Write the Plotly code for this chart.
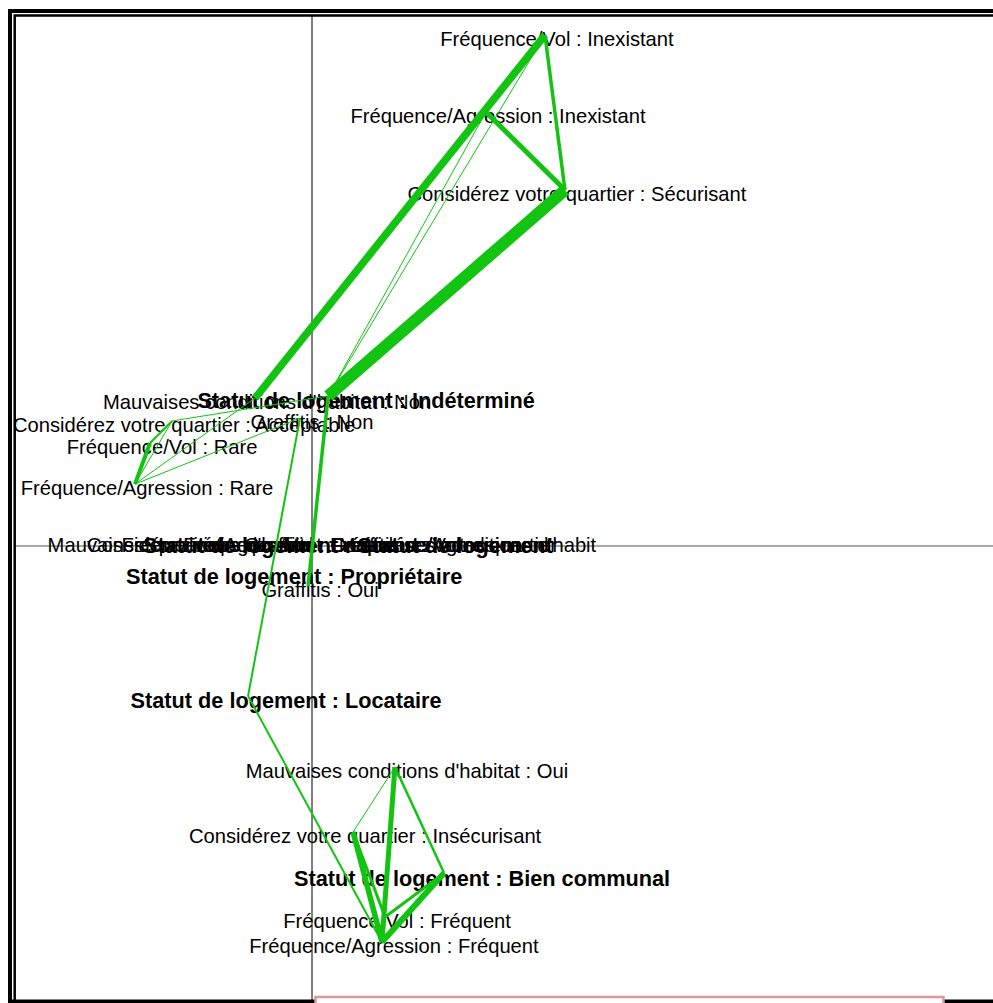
import plotly.graph_objects as go

# ---------------- data ----------------
categories = [
    "Fréquence/Vol : Inexistant",                      # 0
    "Fréquence/Agression : Inexistant",                # 1
    "Considérez votre quartier : Sécurisant",          # 2
    "Statut de logement : Indéterminé",                # 3
    "Mauvaises conditions d'habitat : Non",            # 4
    "Graffitis : Non",                                 # 5
    "Considérez votre quartier : Acceptable",          # 6
    "Fréquence/Vol : Rare",                            # 7
    "Fréquence/Agression : Rare",                      # 8
    "Mauvaises conditions d'habitat : Mauvaises conditions d'habit",  # 9
    "Considérez votre quartier : Considérez votre quartier",           # 10
    "Statut de logement : Statut de logement",         # 11
    "Fréquence/Agression : Fréquence/Agression",       # 12
    "Fréquence/Vol : Fréquence/Vol",                   # 13
    "Graffitis : Graffitis",                           # 14
    "Statut de logement : Propriétaire",               # 15
    "Graffitis : Oui",                                 # 16
    "Statut de logement : Locataire",                  # 17
    "Mauvaises conditions d'habitat : Oui",            # 18
    "Considérez votre quartier : Insécurisant",        # 19
    "Statut de logement : Bien communal",              # 20
    "Fréquence/Vol : Fréquent",                        # 21
    "Fréquence/Agression : Fréquent",                  # 22
]
axis1 = [0.896, 0.669, 0.973, 0.062, -0.219, -0.046, -0.538, -0.623, -0.681,
         -0.008, -0.008, -0.008, -0.008, -0.008, -0.008,
         -0.215, -0.015, -0.246, 0.319, 0.158, 0.508, 0.281, 0.269]
axis2 = [1.965, 1.669, 1.369, 0.577, 0.569, 0.492, 0.481, 0.396, 0.238,
         0.019, 0.019, 0.019, 0.019, 0.019, 0.019,
         -0.100, -0.154, -0.577, -0.850, -1.100, -1.258, -1.427, -1.523]

edge_from =   [0, 2, 1, 0, 0, 1, 3, 17, 8, 8, 8, 8, 7, 6, 18, 18, 18, 19, 19, 20, 20, 21, 17]
edge_to =     [4, 3, 2, 2, 3, 3, 16, 5, 7, 6, 4, 5, 6, 3, 22, 19, 20, 22, 21, 22, 21, 22, 22]
edge_weight = [7.5, 12, 5, 3.5, 1, 1, 3.5, 2, 4, 1, 1, 1, 2, 1, 5, 1, 2.5, 5.5, 3, 6, 3, 2, 2]

# ---------------- layout constants ----------------
W, H = 993, 1003
SCALE = 260.0            # px per unit
X0_PX, Y0_PX = 312, 546  # where the origin sits
x_range = [-X0_PX / SCALE, (W - X0_PX) / SCALE]
y_range = [-(H - Y0_PX) / SCALE, Y0_PX / SCALE]
per_px = 1.0 / SCALE

FONT = "Liberation Sans, Arial, sans-serif"
GREEN = "#12C312"

fig = go.Figure()

# labels (drawn first so that the links sit on top of them)
for i, lab in enumerate(categories):
    is_bold = lab.startswith("Statut de logement")
    dx = 38 if is_bold else 12
    dy = 7 if is_bold else 6
    fig.add_trace(go.Scatter(
        x=[axis1[i] + dx * per_px], y=[axis2[i] - dy * per_px],
        mode="text", text=["<b>%s</b>" % lab if is_bold else lab],
        textposition="middle center",
        textfont=dict(family=FONT, size=21.7 if is_bold else 20.2, color="black"),
        hoverinfo="skip", showlegend=False))

# links
for a, b, w in zip(edge_from, edge_to, edge_weight):
    fig.add_trace(go.Scatter(
        x=[axis1[a], axis1[b]], y=[axis2[a], axis2[b]],
        mode="lines", line=dict(color=GREEN, width=w),
        hoverinfo="skip", showlegend=False))

shapes = [
    # axes through the origin
    dict(type="line", xref="x", yref="paper", x0=0, x1=0,
         y0=0, y1=1 - 16 / H, line=dict(color="black", width=1), layer="below"),
    dict(type="line", xref="paper", yref="y", x0=15 / W, x1=1,
         y0=0, y1=0, line=dict(color="#555555", width=1), layer="below"),
    # double frame
    dict(type="rect", xref="paper", yref="paper",
         x0=10 / W, x1=1.2, y0=1 - 1001.5 / H, y1=1 - 11 / H,
         line=dict(color="black", width=4), fillcolor="rgba(0,0,0,0)", layer="below"),
    dict(type="rect", xref="paper", yref="paper",
         x0=14.7 / W, x1=1.2, y0=-0.2, y1=1 - 15.5 / H,
         line=dict(color="black", width=2.5), fillcolor="rgba(0,0,0,0)", layer="below"),
    # pink box at the bottom
    dict(type="rect", xref="paper", yref="paper",
         x0=315.5 / W, x1=943.5 / W, y0=-0.05, y1=1 - 997 / H,
         line=dict(color="#D89A9A", width=2.5), fillcolor="white", layer="above"),
]

fig.update_layout(
    width=W, height=H,
    margin=dict(l=0, r=0, t=0, b=0),
    paper_bgcolor="white", plot_bgcolor="white",
    xaxis=dict(range=x_range, visible=False, fixedrange=True),
    yaxis=dict(range=y_range, visible=False, fixedrange=True),
    shapes=shapes,
    showlegend=False,
)

fig.write_html("out.html",
               config={"displayModeBar": False},
               post_script="document.body.style.margin='0';document.body.style.overflow='hidden';")
